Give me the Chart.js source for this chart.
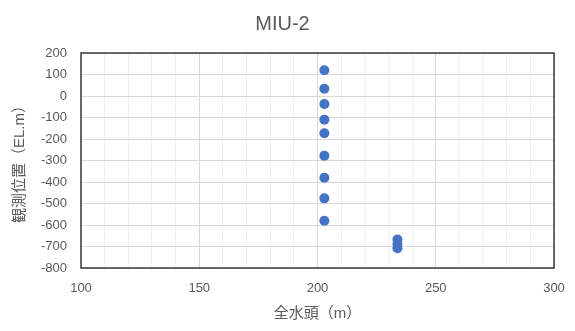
<!DOCTYPE html>
<html>
<head>
<meta charset="utf-8">
<script src="https://cdn.jsdelivr.net/npm/chart.js@4/dist/chart.umd.min.js"></script>
<style>
  html, body { margin: 0; padding: 0; background: #ffffff; }
  #wrap { width: 575px; height: 331px; }
</style>
</head>
<body>
<div id="wrap"><canvas id="chart" width="575" height="331"></canvas></div>
<script>
// Total hydraulic head (m) at each observation depth
const totalHead = [202.9, 202.9, 202.9, 202.9, 202.9, 202.9, 202.9, 202.9, 202.9, 233.8, 233.8, 233.8];
// Observation elevation (EL.m)
const elevation = [120, 34, -37, -110, -173, -278, -380, -476, -580, -668, -688, -708];

const chartTitle = 'MIU-2';
const xTitle = '全水頭（m）';
const yTitle = '観測位置（EL.m）';
const xRange = [100, 300];
const yRange = [-800, 200];

const FONT = '"Liberation Sans", "Noto Sans CJK JP", sans-serif';
const TEXT = '#595959';

// Dark frame around the plotting area
const frame = {
  id: 'frame',
  afterDatasetsDraw(chart) {
    const a = chart.chartArea;
    const ctx = chart.ctx;
    ctx.save();
    ctx.strokeStyle = '#3a3a3a';
    ctx.lineWidth = 1.5;
    ctx.strokeRect(a.left, a.top, a.right - a.left, a.bottom - a.top);
    ctx.restore();
  }
};

new Chart(document.getElementById('chart'), {
  type: 'scatter',
  data: {
    datasets: [{
      data: totalHead.map((x, i) => ({ x: x, y: elevation[i] })),
      backgroundColor: '#4472C4',
      borderWidth: 0,
      pointRadius: 5,
      pointHoverRadius: 5
    }]
  },
  options: {
    responsive: false,
    animation: false,
    layout: { padding: { left: 11, right: 21, top: 0, bottom: 0 } },
    plugins: {
      legend: { display: false },
      tooltip: { enabled: false },
      title: {
        display: true,
        text: chartTitle,
        color: TEXT,
        font: { family: FONT, size: 20, weight: 'normal' },
        padding: { top: 12, bottom: 17 }
      }
    },
    scales: {
      x: {
        type: 'linear',
        min: xRange[0],
        max: xRange[1],
        afterFit(scale) {
          scale.height = 63;
          scale.paddingLeft = 0;
          scale.paddingRight = 0;
        },
        afterBuildTicks(scale) {
          const t = [];
          for (let v = xRange[0]; v <= xRange[1]; v += 10) t.push({ value: v });
          scale.ticks = t;
        },
        ticks: {
          autoSkip: false,
          maxRotation: 0,
          padding: 13,
          color: TEXT,
          font: { family: FONT, size: 13 },
          callback: (v) => (v % 50 === 0 ? String(v) : '')
        },
        grid: {
          drawTicks: false,
          color: (c) => (c.tick && c.tick.value % 50 === 0 ? '#d9d9d9' : '#f0f0f0'),
          lineWidth: 1
        },
        border: { display: false },
        title: {
          display: true,
          text: xTitle,
          color: TEXT,
          font: { family: FONT, size: 15 },
          padding: { top: 0, bottom: 8 }
        }
      },
      y: {
        type: 'linear',
        min: yRange[0],
        max: yRange[1],
        afterFit(scale) {
          scale.width = 70;
          scale.paddingTop = 0;
          scale.paddingBottom = 0;
        },
        ticks: {
          stepSize: 100,
          padding: 14,
          color: TEXT,
          font: { family: FONT, size: 13 }
        },
        grid: { drawTicks: false, color: '#d9d9d9', lineWidth: 1 },
        border: { display: false },
        title: {
          display: true,
          text: yTitle,
          color: TEXT,
          font: { family: FONT, size: 15 },
          padding: { top: 0, bottom: 0 }
        }
      }
    }
  },
  plugins: [frame]
});
</script>
</body>
</html>
